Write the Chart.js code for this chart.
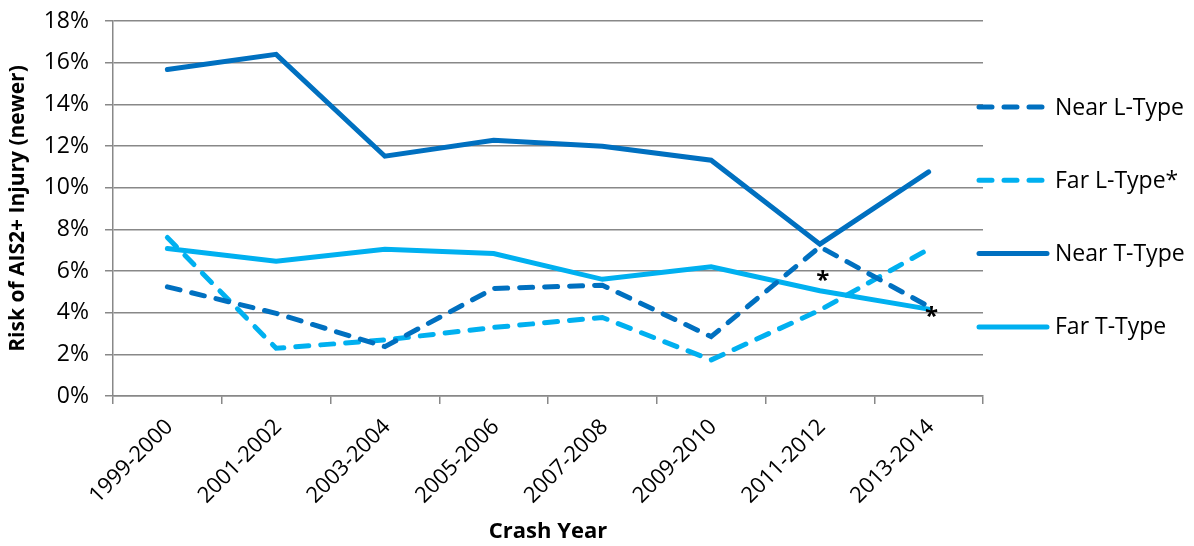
<!DOCTYPE html>
<html>
<head>
<meta charset="utf-8">
<script src="https://cdn.jsdelivr.net/npm/chart.js@4.4.0/dist/chart.umd.min.js"></script>
<style>
  html, body { margin: 0; padding: 0; background: #fff; }
  #wrap { width: 1194px; height: 546px; position: relative; }
</style>
</head>
<body>
<div id="wrap"><canvas id="chart"></canvas></div>
<script>
// categories and series (risk in %)
let years = ['1999-2000', '2001-2002', '2003-2004', '2005-2006', '2007-2008', '2009-2010', '2011-2012', '2013-2014']

let near_l = [5.24, 3.97, 2.37, 5.16, 5.32, 2.85, 7.16, 4.3]
let far_l = [7.61, 2.29, 2.69, 3.29, 3.77, 1.73, 4.12, 7.05]
let near_t = [15.67, 16.4, 11.51, 12.28, 11.99, 11.32, 7.29, 10.76]
let far_t = [7.08, 6.47, 7.04, 6.84, 5.6, 6.2, 5.05, 4.17]

let series_names = ['Near L-Type', 'Far L-Type*', 'Near T-Type', 'Far T-Type']

// asterisk notes: category index, value
let star_idx = [6, 7]
let star_val = [5.8, 4.08]

const dark = '#0070C0'
const light = '#00B0F0'
const grey = '#888888'
const font_family = "'Open Sans', sans-serif"

// legend drawn at the right of the plot
const sideLegend = {
    id: 'sideLegend',
    afterDraw(chart) {
        const ctx = chart.ctx
        const x0 = chart.chartArea.right - 6
        const top = 107
        const step = 73.3
        ctx.save()
        chart.data.datasets.forEach((ds, i) => {
            const y = top + i * step
            ctx.beginPath()
            ctx.strokeStyle = ds.borderColor
            ctx.lineWidth = ds.borderWidth
            ctx.lineCap = 'round'
            ctx.setLineDash(ds.borderDash || [])
            ctx.moveTo(x0 + 2, y)
            ctx.lineTo(x0 + 70, y)
            ctx.stroke()
            ctx.setLineDash([])
            ctx.fillStyle = '#000'
            ctx.font = '23px ' + font_family
            ctx.textAlign = 'left'
            ctx.textBaseline = 'middle'
            ctx.fillText(ds.label, x0 + 78, y + 1)
        })
        ctx.restore()
    }
}

// asterisks next to the last points
const stars = {
    id: 'stars',
    afterDatasetsDraw(chart) {
        const ctx = chart.ctx
        const xs = chart.scales.x
        const ys = chart.scales.y
        ctx.save()
        ctx.fillStyle = '#000'
        ctx.font = 'bold 24px ' + font_family
        ctx.textAlign = 'center'
        ctx.textBaseline = 'middle'
        star_idx.forEach((idx, i) => {
            const x = xs.getPixelForValue(idx) + 3
            const y = ys.getPixelForValue(star_val[i])
            ctx.fillText('*', x, y + 6)
        })
        ctx.restore()
    }
}

function lineSet(label, values, color, dash) {
    return {
        label: label,
        data: values,
        borderColor: color,
        backgroundColor: color,
        borderWidth: 5,
        borderDash: dash,
        borderCapStyle: 'round',
        borderJoinStyle: 'miter',
        pointRadius: 0,
        tension: 0,
        fill: false
    }
}

const data = {
    labels: years,
    datasets: [
        lineSet(series_names[0], near_l, dark, [13, 12]),
        lineSet(series_names[1], far_l, light, [13, 12]),
        lineSet(series_names[2], near_t, dark, []),
        lineSet(series_names[3], far_t, light, [])
    ]
}

const options = {
    responsive: true,
    maintainAspectRatio: false,
    animation: false,
    layout: {
        padding: { top: 21, right: 211, left: 0, bottom: 0 }
    },
    scales: {
        x: {
            offset: true,
            grid: {
                display: true,
                offset: true,
                drawOnChartArea: false,
                drawTicks: true,
                tickLength: 8,
                color: grey,
                lineWidth: 1.5
            },
            border: { display: true, color: grey, width: 1.5 },
            ticks: {
                color: '#000',
                font: { family: font_family, size: 22 },
                maxRotation: 45,
                minRotation: 45,
                labelOffset: 2,
                padding: 10
            },
            title: {
                display: true,
                text: 'Crash Year',
                color: '#000',
                font: { family: font_family, size: 22, weight: 'bold' },
                padding: { top: 0, bottom: 1 }
            },
            afterFit: (s) => { s.height = 150; s.paddingLeft = 0; s.paddingRight = 0 }
        },
        y: {
            min: 0,
            max: 18,
            grid: {
                color: grey,
                lineWidth: 1.5,
                tickLength: 8
            },
            border: { display: true, color: grey, width: 1.5 },
            ticks: {
                stepSize: 2,
                color: '#000',
                padding: 16,
                font: { family: font_family, size: 23 },
                callback: (v) => v + '%'
            },
            title: {
                display: true,
                text: 'Risk of AIS2+ Injury (newer)',
                color: '#000',
                font: { family: font_family, size: 21, weight: 'bold' },
                padding: { top: 5, bottom: 0 }
            },
            afterFit: (s) => { s.width = 113; s.paddingTop = 0; s.paddingBottom = 0 }
        }
    },
    plugins: {
        legend: { display: false },
        tooltip: { enabled: false }
    }
}

const ctx = document.getElementById('chart').getContext('2d')
const lineChart = new Chart(ctx, {
    type: 'line',
    data: data,
    options: options,
    plugins: [sideLegend, stars]
})
</script>
</body>
</html>
